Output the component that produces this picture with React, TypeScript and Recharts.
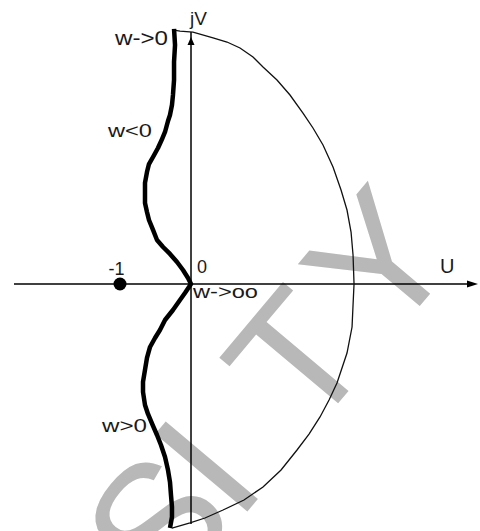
import React from 'react';
import { LineChart, Line, XAxis, YAxis, ReferenceLine, ReferenceDot } from 'recharts';

// Nyquist locus, ω < 0 half: from ω→0 (top) down to the origin (ω→∞)
const upperBranch = [
  { u: -0.239, v: 3.592 }, { u: -0.225, v: 3.366 }, { u: -0.239, v: 3.127 },
  { u: -0.239, v: 2.873 }, { u: -0.254, v: 2.662 }, { u: -0.268, v: 2.521 },
  { u: -0.296, v: 2.38 }, { u: -0.324, v: 2.296 }, { u: -0.366, v: 2.141 },
  { u: -0.408, v: 2.042 }, { u: -0.465, v: 1.915 }, { u: -0.535, v: 1.789 },
  { u: -0.592, v: 1.69 }, { u: -0.62, v: 1.577 }, { u: -0.648, v: 1.423 },
  { u: -0.648, v: 1.254 }, { u: -0.648, v: 1.141 }, { u: -0.62, v: 1.014 },
  { u: -0.592, v: 0.901 }, { u: -0.535, v: 0.761 }, { u: -0.479, v: 0.62 },
  { u: -0.394, v: 0.521 }, { u: -0.296, v: 0.423 }, { u: -0.197, v: 0.31 },
  { u: -0.113, v: 0.197 }, { u: -0.042, v: 0.085 }, { u: 0, v: 0 },
];

// ω > 0 half: from the origin back down to ω→0 (bottom)
const lowerBranch = [
  { u: -0.085, v: -0.127 }, { u: -0.155, v: -0.225 }, { u: -0.254, v: -0.366 },
  { u: -0.366, v: -0.507 }, { u: -0.437, v: -0.648 }, { u: -0.507, v: -0.761 },
  { u: -0.577, v: -0.887 }, { u: -0.62, v: -1.042 }, { u: -0.648, v: -1.211 },
  { u: -0.676, v: -1.38 }, { u: -0.676, v: -1.521 }, { u: -0.648, v: -1.704 },
  { u: -0.606, v: -1.831 }, { u: -0.535, v: -2.0 }, { u: -0.479, v: -2.127 },
  { u: -0.423, v: -2.268 }, { u: -0.366, v: -2.437 }, { u: -0.324, v: -2.62 },
  { u: -0.296, v: -2.789 }, { u: -0.282, v: -2.972 }, { u: -0.268, v: -3.141 },
  { u: -0.268, v: -3.282 }, { u: -0.296, v: -3.437 },
];

// Closing contour at infinity around the right half-plane
const closingArc = [
  { u: -0.239, v: 3.577 }, { u: -0.155, v: 3.563 }, { u: 0.028, v: 3.549 },
  { u: 0.31, v: 3.465 }, { u: 0.507, v: 3.408 }, { u: 0.69, v: 3.324 },
  { u: 0.873, v: 3.197 }, { u: 1.014, v: 3.056 }, { u: 1.211, v: 2.873 },
  { u: 1.394, v: 2.662 }, { u: 1.577, v: 2.408 }, { u: 1.718, v: 2.197 },
  { u: 1.859, v: 1.958 }, { u: 2.0, v: 1.648 }, { u: 2.113, v: 1.324 },
  { u: 2.197, v: 1.042 }, { u: 2.254, v: 0.732 }, { u: 2.282, v: 0.408 },
  { u: 2.296, v: 0 }, { u: 2.282, v: -0.296 }, { u: 2.268, v: -0.606 },
  { u: 2.197, v: -0.972 }, { u: 2.056, v: -1.394 }, { u: 1.944, v: -1.634 },
  { u: 1.817, v: -1.873 }, { u: 1.662, v: -2.113 }, { u: 1.493, v: -2.338 },
  { u: 1.268, v: -2.62 }, { u: 1.014, v: -2.859 }, { u: 0.746, v: -3.042 },
  { u: 0.451, v: -3.183 }, { u: 0.197, v: -3.296 }, { u: -0.014, v: -3.366 },
  { u: -0.268, v: -3.437 },
];

const criticalPoint = { u: -1, v: 0 };
const uAxisRange = [-2.493, 4.042];
const vAxisRange = [-3.38, 3.549];
const uDomain = [-2.69, 4.07];
const vDomain = [-3.479, 4.0];

const locus = [...upperBranch, ...lowerBranch];

const FONT = '"Liberation Sans", Arial, Helvetica, sans-serif';
const INK = '#1a1a1a';

const HorizontalArrow = (p: any) => {
  const { x1, y1, x2, y2 } = p;
  return (
    <g>
      <line x1={x1} y1={y1} x2={x2 - 6} y2={y2} stroke="#000" strokeWidth={1.5} />
      <polygon points={`${x2},${y2} ${x2 - 11},${y2 - 3.5} ${x2 - 11},${y2 + 3.5}`} fill="#000" />
    </g>
  );
};

const VerticalArrow = (p: any) => {
  const { x1, y1, x2, y2 } = p;
  const top = Math.min(y1, y2);
  const bottom = Math.max(y1, y2);
  return (
    <g>
      <line x1={x1} y1={bottom} x2={x2} y2={top} stroke="#000" strokeWidth={1.5} />
      <polygon points={`${x2},${top + 5} ${x2 - 3.5},${top + 13} ${x2 + 3.5},${top + 13}`} fill="#000" />
    </g>
  );
};

const textAt = (
  text: string,
  dx: number,
  dy: number,
  anchor: 'start' | 'middle' | 'end',
  size: number,
  length?: number,
) => (p: any) => (
  <text
    x={p.cx + dx}
    y={p.cy + dy}
    textAnchor={anchor}
    fontFamily={FONT}
    fontSize={size}
    fill={INK}
    textLength={length}
    lengthAdjust={length ? 'spacingAndGlyphs' : undefined}
  >
    {text}
  </text>
);

const Watermark = () => (
  <svg width={480} height={531} style={{ position: 'absolute', left: 0, top: 0 }}>
    <g transform="translate(309,438) rotate(-50)" fill="#b8b8b8" fontFamily={FONT} fontSize={175}>
      <text x={-222}>S</text>
      <text x={-112}>I</text>
      <text x={0}>T</text>
      <text x={122}>Y</text>
    </g>
  </svg>
);

export default function App() {
  const top = upperBranch[0];
  const wLabelPos = upperBranch[7];
  const wPosLabel = lowerBranch[13];
  return (
    <div style={{ position: 'absolute', left: 0, top: 0, width: 480, height: 531, background: '#fff', overflow: 'hidden' }}>
      <Watermark />
      <div style={{ position: 'absolute', left: 0, top: 0 }}>
        <LineChart width={480} height={531} margin={{ top: 0, right: 0, bottom: 0, left: 0 }}>
          <XAxis type="number" dataKey="u" domain={uDomain} hide allowDataOverflow />
          <YAxis type="number" domain={vDomain} hide allowDataOverflow />
          <ReferenceLine
            segment={[{ x: uAxisRange[0], y: 0 }, { x: uAxisRange[1], y: 0 }]}
            shape={HorizontalArrow}
            ifOverflow="visible"
          />
          <ReferenceLine
            segment={[{ x: 0, y: vAxisRange[0] }, { x: 0, y: vAxisRange[1] }]}
            shape={VerticalArrow}
            ifOverflow="visible"
          />
          <Line
            data={closingArc}
            dataKey="v"
            type="linear"
            stroke="#111"
            strokeWidth={1.3}
            dot={false}
            activeDot={false}
            isAnimationActive={false}
          />
          <Line
            data={locus}
            dataKey="v"
            type="linear"
            stroke="#000"
            strokeWidth={4.5}
            strokeLinejoin="round"
            dot={false}
            activeDot={false}
            isAnimationActive={false}
          />
          <ReferenceDot x={criticalPoint.u} y={criticalPoint.v} r={6.5} fill="#000" stroke="none" ifOverflow="visible" />
          <ReferenceDot x={criticalPoint.u} y={criticalPoint.v} r={1} shape={textAt('-1', -3.5, -9, 'middle', 18)} />
          <ReferenceDot x={0} y={0} r={1} shape={textAt('0', 6, -11, 'start', 18)} />
          <ReferenceDot x={0} y={0} r={1} shape={textAt('w->oo', 2, 14, 'start', 19, 65)} />
          <ReferenceDot x={uAxisRange[1]} y={0} r={1} shape={textAt('U', -38, -11, 'start', 20)} />
          <ReferenceDot x={0} y={vAxisRange[1]} r={1} shape={textAt('jV', -1, -7, 'start', 19)} />
          <ReferenceDot x={top.u} y={top.v} r={1} shape={textAt('w->0', -6, 16, 'end', 20, 53)} />
          <ReferenceDot x={wLabelPos.u} y={wLabelPos.v} r={1} shape={textAt('w<0', -16, 16, 'end', 19, 44)} />
          <ReferenceDot x={wPosLabel.u} y={wPosLabel.v} r={1} shape={textAt('w>0', -6, 6, 'end', 19, 45)} />
        </LineChart>
      </div>
    </div>
  );
}
